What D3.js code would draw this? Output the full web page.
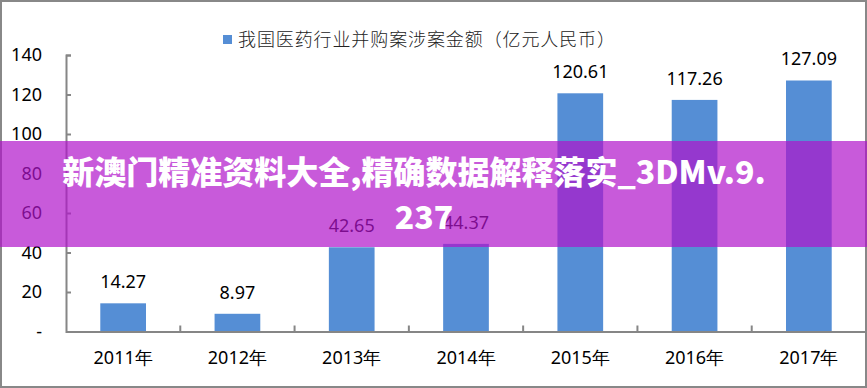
<!DOCTYPE html>
<html><head><meta charset="utf-8">
<script src="https://cdn.jsdelivr.net/npm/d3@7/dist/d3.min.js"></script>
<style>html,body{margin:0;padding:0;background:#fff;}svg{display:block;}</style>
</head><body>
<script>
const categories = ["2011年","2012年","2013年","2014年","2015年","2016年","2017年"];
const values = [14.27, 8.97, 42.65, 44.37, 120.61, 117.26, 127.09];
const yTicks = [0, 20, 40, 60, 80, 100, 120, 140];
const legendLabel = "我国医药行业并购案涉案金额（亿元人民币）";
const overlayLines = ["新澳门精准资料大全,精确数据解释落实_3DMv.9.", "237"];

(function () {
const W = 867, H = 388;
const svg = d3.select("body").append("svg").attr("width", W).attr("height", H);
const numFont = "'Noto Sans', 'Open Sans', sans-serif";
const cjkFont = "'Noto Sans CJK SC', 'Noto Sans', sans-serif";

svg.append("rect").attr("width", W).attr("height", H).attr("fill", "#fff");

const pLeft = 66, pRight = 866, pTop = 55, pBottom = 331.5;
const x = d3.scaleBand().domain(categories).range([pLeft, pRight]).paddingInner(0.6).paddingOuter(0.3);
const xb = d3.scaleBand().domain(categories).range([pLeft, pRight]);
const y = d3.scaleLinear().domain([0, 140]).range([pBottom, pTop]);

// bars
svg.selectAll("rect.bar").data(values).join("rect")
  .attr("class", "bar")
  .attr("x", (d, i) => x(categories[i]))
  .attr("width", x.bandwidth())
  .attr("y", d => y(d))
  .attr("height", d => y(0) - y(d))
  .attr("fill", "#558ED5");

// value labels
svg.selectAll("text.val").data(values).join("text")
  .attr("class", "val")
  .attr("x", (d, i) => x(categories[i]) + x.bandwidth() / 2)
  .attr("y", d => y(d) - 15)
  .attr("text-anchor", "middle")
  .attr("font-family", numFont).attr("font-size", 18).attr("fill", "#000")
  .text(d => d.toFixed(2));

// y axis
const yAxis = d3.axisRight(y).tickValues(yTicks).tickSize(5).tickFormat("");
const gy = svg.append("g").attr("transform", `translate(${pLeft},0)`).call(yAxis);
gy.select(".domain").attr("stroke", "#868686").attr("stroke-width", 2);
gy.selectAll(".tick line").attr("stroke", "#868686").attr("stroke-width", 2);
svg.selectAll("text.ytick").data(yTicks).join("text")
  .attr("class", "ytick")
  .attr("x", 42).attr("y", d => y(d) + 6)
  .attr("text-anchor", "end")
  .attr("font-family", numFont).attr("font-size", 18).attr("fill", "#000")
  .text(d => d === 0 ? "-" : d);

// x axis
const xAxis = d3.axisBottom(xb).tickSize(0).tickFormat("");
const gx = svg.append("g").attr("transform", `translate(0,${pBottom})`).call(xAxis);
gx.select(".domain").attr("stroke", "#868686").attr("stroke-width", 2);
const boundaries = categories.slice(1).map(c => xb(c));
svg.selectAll("line.xt").data(boundaries).join("line")
  .attr("class", "xt")
  .attr("x1", d => d).attr("x2", d => d)
  .attr("y1", pBottom).attr("y2", pBottom - 6)
  .attr("stroke", "#868686").attr("stroke-width", 2);
svg.selectAll("text.cat").data(categories).join("text")
  .attr("class", "cat")
  .attr("x", d => xb(d) + xb.bandwidth() / 2)
  .attr("y", 364)
  .attr("text-anchor", "middle")
  .attr("font-family", numFont).attr("font-size", 18).attr("fill", "#000")
  .text(d => d);

// legend
svg.append("rect").attr("x", 223).attr("y", 35).attr("width", 9).attr("height", 9).attr("fill", "#558ED5");
svg.append("text").attr("x", 238).attr("y", 46)
  .attr("font-family", cjkFont).attr("font-size", 18).attr("font-weight", 300).attr("fill", "#222")
  .attr("textLength", 377).attr("lengthAdjust", "spacing")
  .text(legendLabel);

// border
svg.append("rect").attr("x", 1).attr("y", 1).attr("width", W - 2).attr("height", H - 2)
  .attr("fill", "none").attr("stroke", "#888").attr("stroke-width", 2);

// overlay band
svg.append("rect").attr("x", 0).attr("y", 141).attr("width", W).attr("height", 106)
  .attr("fill", "rgb(176,20,202)").attr("fill-opacity", 0.7);
svg.selectAll("text.ov").data(overlayLines).join("text")
  .attr("class", "ov")
  .attr("x", (d, i) => i === 0 ? 414 : 424)
  .attr("y", (d, i) => 184 + i * 45)
  .attr("text-anchor", "middle")
  .attr("font-family", cjkFont).attr("font-size", 32).attr("font-weight", 900).attr("fill", "#fff")
  .text(d => d);
})();
</script>
</body></html>
